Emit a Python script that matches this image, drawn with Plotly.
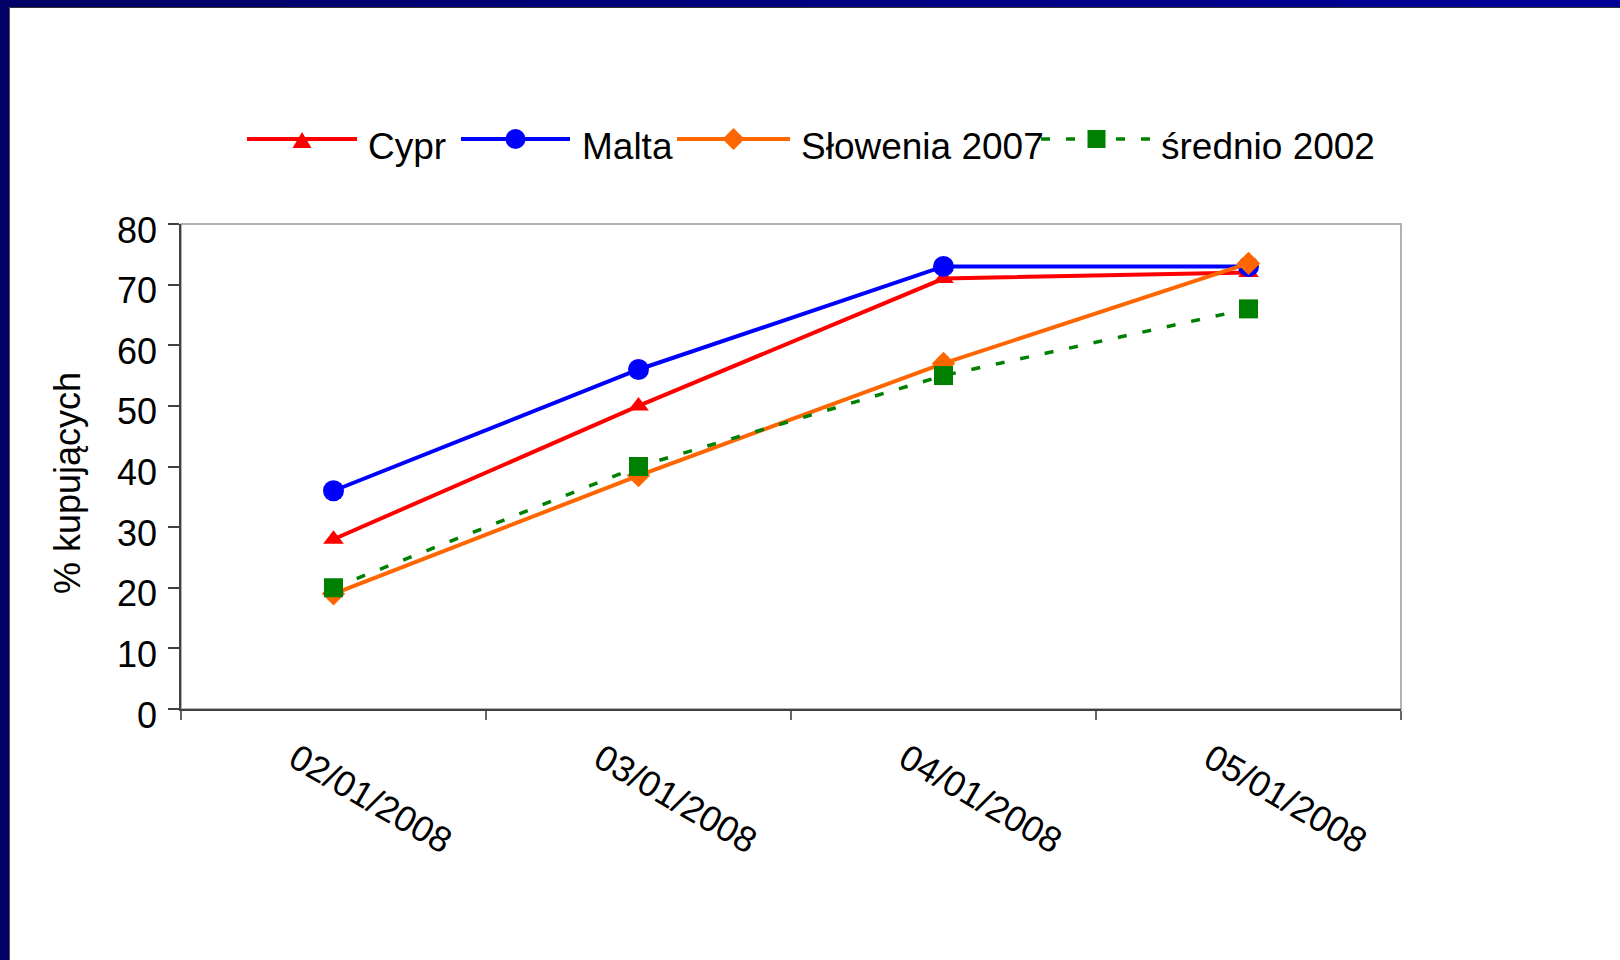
import plotly.graph_objects as go

# ---------------- data ----------------
categories = ["02/01/2008", "03/01/2008", "04/01/2008", "05/01/2008"]
series_names = ["Cypr", "Malta", "Słowenia 2007", "średnio 2002"]
cypr = [28, 50, 71, 72]
malta = [36, 56, 73, 73]
slowenia = [19, 38.5, 57, 73.5]
srednio = [20, 40, 55, 66]
y_ticks = [0, 10, 20, 30, 40, 50, 60, 70, 80]
y_title = "% kupujących"

# ---------------- styles ----------------
W, H = 1620, 960
L, R, T, B = 181, 1401, 224, 709          # plot area in px
FONT = "Liberation Sans, Arial, sans-serif"
FS = 36

def X(px):
    return (px - L) / (R - L)

def Y(py):
    return (B - py) / (B - T)

styles = [
    dict(color="#FF0000", symbol="triangle-up", size=18, dash="solid", width=4),
    dict(color="#0000FF", symbol="circle", size=21, dash="solid", width=4),
    dict(color="#FF6600", symbol="diamond", size=18, dash="solid", width=4),
    dict(color="#008000", symbol="square", size=19, dash="9px,16px", width=3.5),
]
values = [cypr, malta, slowenia, srednio]

fig = go.Figure()
for name, vals, st in zip(series_names, values, styles):
    fig.add_trace(go.Scatter(
        x=categories, y=vals, name=name, mode="lines+markers",
        line=dict(color=st["color"], width=st["width"], dash=st["dash"]),
        marker=dict(symbol=st["symbol"], size=st["size"], color=st["color"],
                    line=dict(width=0)),
        showlegend=False, cliponaxis=False,
    ))

shapes = []
annotations = []

# ---- page border (top gradient + left) ----
n = 40
for i in range(n):
    x0 = i * W / n
    x1 = (i + 1) * W / n + 1
    t = i / (n - 1)
    c = int(0x66 + (0x99 - 0x66) * t)
    shapes.append(dict(type="rect", xref="paper", yref="paper",
                       x0=X(x0), x1=X(x1), y0=Y(7), y1=Y(-2),
                       fillcolor=f"#0000{c:02x}", line=dict(width=0), layer="above"))
shapes.append(dict(type="rect", xref="paper", yref="paper",
                   x0=X(-2), x1=X(9), y0=Y(W), y1=Y(-2),
                   fillcolor="#000066", line=dict(width=0), layer="above"))
shapes.append(dict(type="line", xref="paper", yref="paper",
                   x0=X(9), x1=X(W), y0=Y(7.5), y1=Y(7.5),
                   line=dict(color="#333333", width=1), layer="above"))
shapes.append(dict(type="line", xref="paper", yref="paper",
                   x0=X(9.5), x1=X(9.5), y0=Y(7), y1=Y(W),
                   line=dict(color="#555555", width=1), layer="above"))

# ---- plot frame (gray top/right) ----
shapes.append(dict(type="rect", xref="paper", yref="paper", x0=0, x1=1, y0=0, y1=1,
                   line=dict(color="#999999", width=1.5), layer="below"))

# ---- custom legend ----
leg_y = 139
leg_items = [  # (line x0, line x1, text x)
    (247, 357, 366),
    (461, 570, 580),
    (677, 790, 799),
    (1041, 1152, 1159),
]
for name, st, (lx0, lx1, tx) in zip(series_names, styles, leg_items):
    shapes.append(dict(type="line", xref="paper", yref="paper",
                       x0=X(lx0), x1=X(lx1), y0=Y(leg_y), y1=Y(leg_y),
                       line=dict(color=st["color"], width=st["width"], dash=st["dash"])))
    cx = (lx0 + lx1) / 2
    common = dict(xref="paper", yref="paper", xsizemode="pixel", ysizemode="pixel",
                  xanchor=X(cx), yanchor=Y(leg_y), fillcolor=st["color"],
                  line=dict(width=0))
    if st["symbol"] == "triangle-up":
        shapes.append(dict(type="path", path="M-9.5,-9 L9.5,-9 L0,7 Z", **common))
    elif st["symbol"] == "circle":
        shapes.append(dict(type="circle", x0=-10, x1=10, y0=-10, y1=10, **common))
    elif st["symbol"] == "diamond":
        shapes.append(dict(type="path", path="M-11,0 L0,11 L11,0 L0,-11 Z", **common))
    else:
        shapes.append(dict(type="rect", x0=-9, x1=9, y0=-9, y1=9, **common))
    annotations.append(dict(text=name, xref="paper", yref="paper", x=X(tx), y=Y(leg_y + 8),
                            xanchor="left", yanchor="middle", showarrow=False,
                            font=dict(family=FONT, size=37, color="black")))

# ---- x tick labels (rotated) ----
for cat in categories:
    annotations.append(dict(text=cat, x=cat, xref="x", y=0, yref="y",
                            xshift=37, yshift=-89, textangle=30,
                            xanchor="center", yanchor="middle", showarrow=False,
                            font=dict(family=FONT, size=FS, color="black")))

# ---- y title ----
annotations.append(dict(text=y_title, xref="paper", yref="paper", x=X(67), y=Y(483),
                        textangle=-90, xanchor="center", yanchor="middle", showarrow=False,
                        font=dict(family=FONT, size=FS, color="black")))

fig.update_layout(
    width=W, height=H,
    margin=dict(l=L, r=W - R, t=T, b=H - B, pad=0),
    paper_bgcolor="white", plot_bgcolor="white",
    font=dict(family=FONT, size=FS, color="black"),
    shapes=shapes, annotations=annotations,
    showlegend=False,
    xaxis=dict(type="category", range=[-0.5, 3.5], tickson="boundaries",
               ticks="outside", ticklen=9, tickcolor="#666666", tickwidth=1.5,
               showticklabels=False, showgrid=False, zeroline=False,
               showline=True, linecolor="#404040", linewidth=1.5, fixedrange=True),
    yaxis=dict(range=[0, 80], tickvals=y_ticks, ticks="outside", ticklen=11,
               tickcolor="#404040", tickwidth=1.5, showgrid=False, zeroline=False,
               showline=True, linecolor="#404040", linewidth=1.5,
               ticklabelstandoff=4, ticklabelshift=6,
               tickfont=dict(family=FONT, size=FS, color="black"), fixedrange=True),
)

fig.write_html("out.html", config=dict(displayModeBar=False),
               post_script="document.body.style.margin='0';document.body.style.overflow='hidden';")
